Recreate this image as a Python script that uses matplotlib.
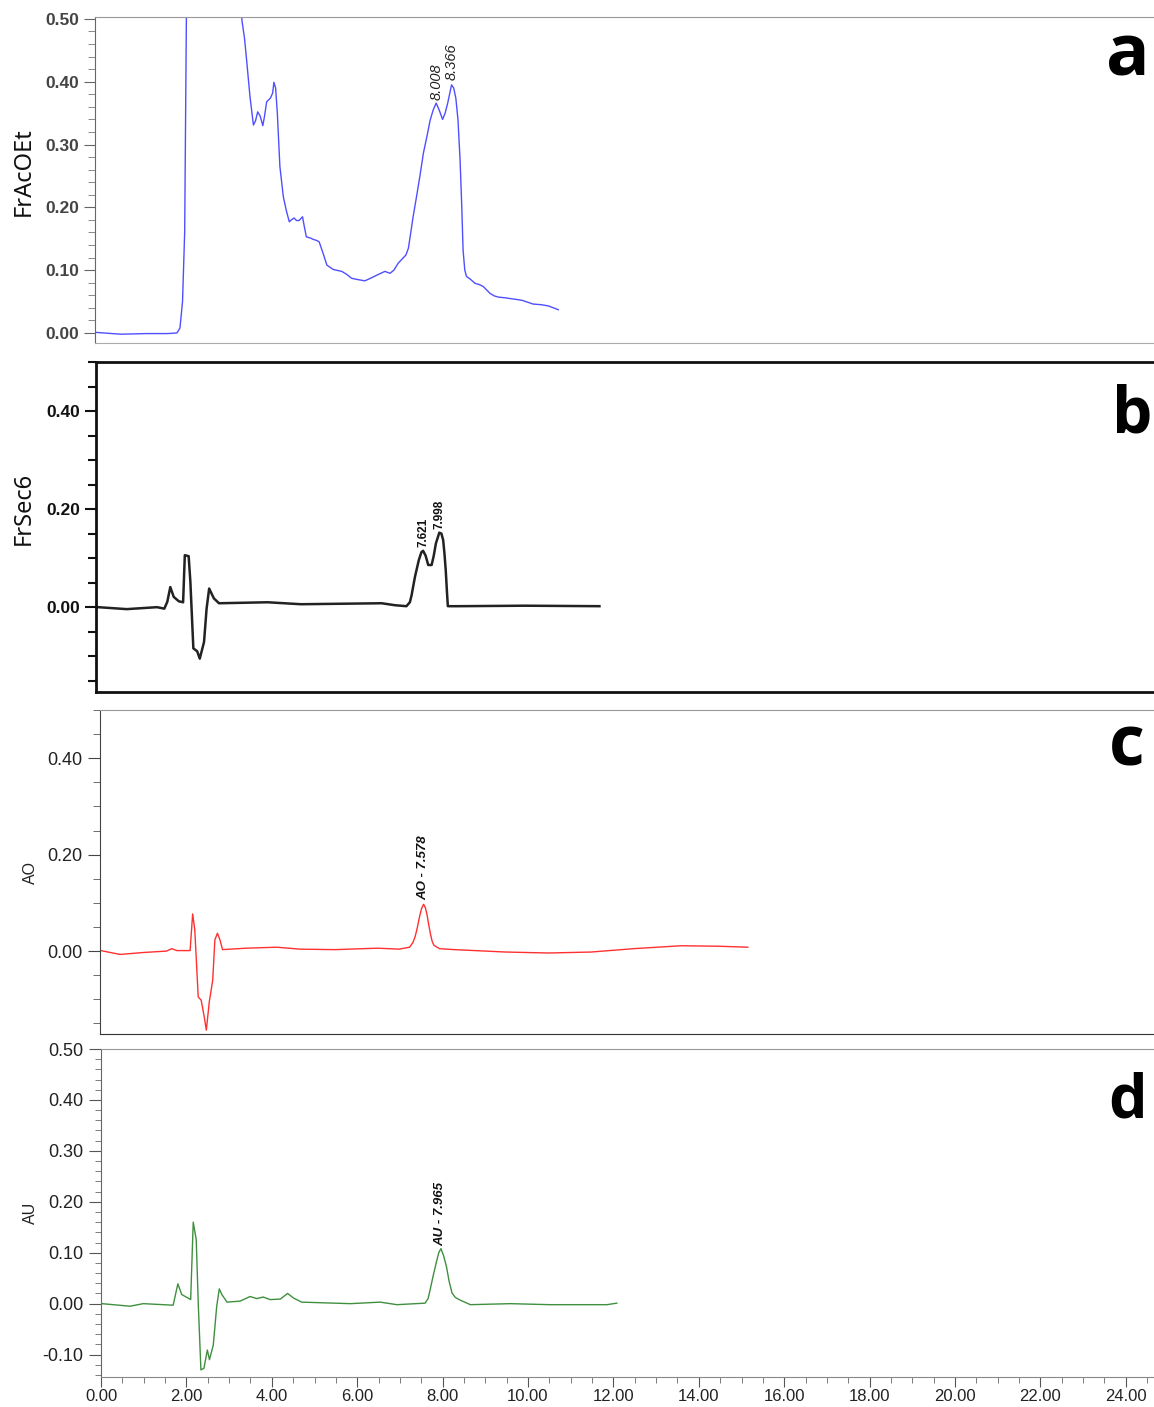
import matplotlib
matplotlib.use("Agg")
import matplotlib.pyplot as plt
from matplotlib.ticker import MultipleLocator, FormatStrFormatter

# ---- data (time in min, absorbance) ----
t_a = [0.00, 0.60, 1.20, 1.70, 1.92, 1.99, 2.05, 2.10, 2.14, 2.20,
       3.40, 3.44, 3.50, 3.55, 3.63, 3.71, 3.76, 3.81, 3.87, 3.93, 3.97, 4.02,
       4.11, 4.16, 4.19, 4.23, 4.27, 4.33, 4.41, 4.48, 4.55, 4.60, 4.66, 4.72,
       4.78, 4.86, 4.90, 4.95, 5.05, 5.11, 5.20, 5.25, 5.35, 5.43, 5.58,
       5.78, 5.90, 6.01, 6.15, 6.32, 6.45, 6.60, 6.79, 6.91, 7.00, 7.10, 7.28,
       7.34, 7.38, 7.45, 7.53, 7.61, 7.69, 7.78, 7.85, 7.92, 7.99, 8.06, 8.14,
       8.20, 8.26, 8.31, 8.35, 8.40, 8.45, 8.50, 8.55, 8.59, 8.62, 8.66, 8.70,
       8.80, 8.90, 9.00, 9.09, 9.18, 9.25, 9.35, 9.45, 9.60, 9.80, 10.00,
       10.26, 10.45, 10.62, 10.85]
v_a = [0.001, -0.002, -0.001, -0.001, 0.0, 0.008, 0.05, 0.16, 0.50, 0.60,
       0.60, 0.498, 0.470, 0.435, 0.376, 0.331, 0.338, 0.352, 0.345, 0.330, 0.345, 0.368,
       0.374, 0.382, 0.399, 0.390, 0.350, 0.265, 0.217, 0.195, 0.177, 0.180, 0.183, 0.179,
       0.179, 0.185, 0.170, 0.153, 0.151, 0.149, 0.147, 0.145, 0.125, 0.108, 0.101,
       0.098, 0.093, 0.087, 0.085, 0.083, 0.087, 0.092, 0.098, 0.095, 0.100, 0.111, 0.124,
       0.135, 0.153, 0.185, 0.217, 0.250, 0.286, 0.315, 0.339, 0.355, 0.366, 0.355, 0.340,
       0.350, 0.366, 0.382, 0.395, 0.390, 0.374, 0.340, 0.275, 0.200, 0.132, 0.100, 0.090,
       0.085, 0.079, 0.077, 0.074, 0.068, 0.063, 0.059, 0.057, 0.056, 0.054, 0.052,
       0.046, 0.045, 0.043, 0.037]

t_b = [0.00, 0.67, 1.38, 1.55, 1.62, 1.69, 1.77, 1.89, 1.99, 2.03, 2.12,
       2.16, 2.23, 2.32, 2.38, 2.48, 2.54, 2.60, 2.71, 2.83, 3.97, 4.75,
       6.64, 6.95, 7.22, 7.30, 7.34, 7.42, 7.51, 7.57, 7.61, 7.67, 7.73, 7.81,
       7.86, 7.91, 7.99, 8.04, 8.08, 8.11, 8.14, 8.17, 8.19, 8.44, 10.0, 11.74]
v_b = [0.0, -0.004, 0.0, -0.003, 0.011, 0.041, 0.021, 0.012, 0.010, 0.106, 0.104,
       0.052, -0.084, -0.090, -0.105, -0.071, -0.003, 0.038, 0.018, 0.008, 0.010, 0.006,
       0.008, 0.004, 0.002, 0.010, 0.024, 0.062, 0.096, 0.112, 0.115, 0.105, 0.086, 0.086,
       0.105, 0.130, 0.152, 0.150, 0.137, 0.110, 0.076, 0.030, 0.002, 0.002, 0.003, 0.002]

t_c = [0.02, 0.47, 1.01, 1.56, 1.68, 1.80, 2.11, 2.17, 2.22, 2.30, 2.37,
       2.44, 2.49, 2.56, 2.64, 2.69, 2.75, 2.81, 2.87, 3.43, 4.14, 4.68,
       5.50, 6.50, 7.00, 7.25, 7.33, 7.38, 7.43, 7.48, 7.53, 7.578, 7.62, 7.66,
       7.70, 7.74, 7.78, 7.82, 7.95, 8.30, 9.50, 10.50, 11.50, 12.50, 13.60,
       14.50, 15.17]
v_c = [0.001, -0.007, -0.003, 0.0, 0.005, 0.001, 0.001, 0.077, 0.044, -0.095, -0.102,
       -0.136, -0.164, -0.105, -0.060, 0.023, 0.037, 0.023, 0.003, 0.006, 0.008, 0.004,
       0.003, 0.006, 0.004, 0.008, 0.018, 0.030, 0.048, 0.070, 0.088, 0.097, 0.090, 0.075,
       0.054, 0.035, 0.020, 0.012, 0.005, 0.003, -0.002, -0.004, -0.002, 0.005, 0.011,
       0.010, 0.008]

t_d = [0.02, 0.68, 0.99, 1.69, 1.80, 1.89, 2.10, 2.16, 2.23, 2.28, 2.34,
       2.41, 2.49, 2.54, 2.63, 2.71, 2.77, 2.83, 2.95, 3.26, 3.49, 3.65,
       3.80, 3.96, 4.20, 4.37, 4.51, 4.70, 5.84, 6.54, 6.93, 7.59, 7.66, 7.71,
       7.78, 7.85, 7.91, 7.96, 8.02, 8.09, 8.15, 8.22, 8.30, 8.41, 8.65, 9.59,
       10.52, 11.85, 12.08]
v_d = [0.0, -0.005, 0.0, -0.003, 0.039, 0.018, 0.008, 0.160, 0.126, -0.005, -0.130,
       -0.127, -0.091, -0.110, -0.081, -0.005, 0.029, 0.018, 0.003, 0.005, 0.014, 0.010,
       0.013, 0.008, 0.009, 0.020, 0.011, 0.003, 0.0, 0.003, -0.002, 0.001, 0.010, 0.028,
       0.055, 0.080, 0.100, 0.108, 0.095, 0.073, 0.045, 0.021, 0.012, 0.007, -0.002, 0.0,
       -0.002, -0.002, 0.001]

peaks_a = [(7.99, 0.371, "8.008"), (8.36, 0.403, "8.366")]
peaks_b = [(7.62, 0.122, "7.621"), (8.00, 0.159, "7.998")]
peaks_c = [(7.57, 0.106, "AO - 7.578")]
peaks_d = [(7.94, 0.114, "AU - 7.965")]

W, H = 1154, 1407
PPU = 42.7  # pixels per minute, common to all four traces

fig = plt.figure(figsize=(W / 100, H / 100), dpi=100)
TICKFONT = "Liberation Sans"


def make_ax(left, top, bottom, x0):
    ax = fig.add_axes([left / W, 1 - bottom / H, (W - left) / W, (bottom - top) / H])
    ax.set_xlim(x0, x0 + (W - left) / PPU)
    ax.spines["right"].set_visible(False)
    return ax


# ---- panel a ----
ax = make_ax(95, 17, 343, 0.0)
ax.plot(t_a, v_a, color="#4f4fff", lw=1.0)
ax.set_ylim(-0.016, 0.503)
ax.yaxis.set_major_locator(MultipleLocator(0.1))
ax.yaxis.set_minor_locator(MultipleLocator(0.02))
ax.yaxis.set_major_formatter(FormatStrFormatter("%.2f"))
ax.set_xticks([])
ax.tick_params(axis="y", which="major", length=8, color="#666", labelsize=12.5,
               labelcolor="#444", labelfontfamily=TICKFONT)
ax.tick_params(axis="y", which="minor", length=5, color="#777")
for lab in ax.get_yticklabels():
    lab.set_fontweight("bold")
ax.spines["left"].set_color("#666")
ax.spines["top"].set_color("#999")
ax.spines["bottom"].set_color("#aaa")
for x, y, s in peaks_a:
    ax.text(x, y, s, rotation=90, ha="center", va="bottom", fontsize=10.5,
            style="italic", color="#222", family=TICKFONT)

# ---- panel b ----
ax = make_ax(96, 362, 692, -0.05)
ax.plot(t_b, v_b, color="#222", lw=1.8)
ax.set_ylim(-0.173, 0.50)
ax.yaxis.set_major_locator(MultipleLocator(0.2))
ax.yaxis.set_minor_locator(MultipleLocator(0.05))
ax.yaxis.set_major_formatter(FormatStrFormatter("%.2f"))
ax.set_xticks([])
ax.tick_params(axis="y", which="major", length=8, width=1.5, color="#111", labelsize=12.5,
               labelcolor="#111", labelfontfamily=TICKFONT)
ax.tick_params(axis="y", which="minor", length=6, width=1.5, color="#111")
for lab in ax.get_yticklabels():
    lab.set_fontweight("bold")
for side in ("left", "top", "bottom"):
    ax.spines[side].set_color("#111")
    ax.spines[side].set_linewidth(2)
for x, y, s in peaks_b:
    ax.text(x, y, s, rotation=90, ha="center", va="bottom", fontsize=8.5,
            fontweight="bold", color="#111", family=TICKFONT)

# ---- panel c ----
ax = make_ax(100, 710, 1034, 0.0)
ax.plot(t_c, v_c, color="#ff3030", lw=1.0)
ax.set_ylim(-0.172, 0.50)
ax.yaxis.set_major_locator(MultipleLocator(0.2))
ax.yaxis.set_minor_locator(MultipleLocator(0.05))
ax.yaxis.set_major_formatter(FormatStrFormatter("%.2f"))
ax.set_xticks([])
ax.tick_params(axis="y", which="major", length=9, color="#444", labelsize=13,
               labelcolor="#222", labelfontfamily=TICKFONT)
ax.tick_params(axis="y", which="minor", length=5, color="#555")
ax.spines["left"].set_color("#444")
ax.spines["top"].set_color("#999")
ax.spines["bottom"].set_color("#333")
for x, y, s in peaks_c:
    ax.text(x, y, s, rotation=90, ha="center", va="bottom", fontsize=9.5,
            fontweight="bold", style="italic", color="#111", family=TICKFONT)

# ---- panel d ----
ax = make_ax(101, 1049, 1377, 0.0)
ax.plot(t_d, v_d, color="#3f8f3f", lw=1.0)
ax.set_ylim(-0.144, 0.50)
ax.yaxis.set_major_locator(MultipleLocator(0.1))
ax.yaxis.set_minor_locator(MultipleLocator(0.02))
ax.yaxis.set_major_formatter(FormatStrFormatter("%.2f"))
ax.xaxis.set_major_locator(MultipleLocator(2))
ax.xaxis.set_minor_locator(MultipleLocator(0.5))
ax.xaxis.set_major_formatter(FormatStrFormatter("%.2f"))
ax.tick_params(axis="y", which="major", length=9, color="#555", labelsize=13,
               labelcolor="#222", labelfontfamily=TICKFONT)
ax.tick_params(axis="x", which="major", length=7, pad=1.5, color="#555", labelsize=12,
               labelcolor="#222", labelfontfamily=TICKFONT)
ax.tick_params(which="minor", length=4, color="#666")
ax.spines["left"].set_color("#666")
ax.spines["top"].set_color("#999")
ax.spines["bottom"].set_color("#888")
for x, y, s in peaks_d:
    ax.text(x, y, s, rotation=90, ha="center", va="bottom", fontsize=9.5,
            fontweight="bold", style="italic", color="#111", family=TICKFONT)

# ---- axis titles and panel letters ----
fig.text(24 / W, 1 - 172 / H, "FrAcOEt", rotation=90, ha="center", va="center",
         fontsize=17, family="Noto Sans", color="#111")
fig.text(24 / W, 1 - 508 / H, "FrSec6", rotation=90, ha="center", va="center",
         fontsize=17, family="Noto Sans", color="#111")
fig.text(30 / W, 1 - 873 / H, "AO", rotation=90, ha="center", va="center",
         fontsize=11.5, family=TICKFONT, color="#222")
fig.text(30 / W, 1 - 1213 / H, "AU", rotation=90, ha="center", va="center",
         fontsize=11.5, family=TICKFONT, color="#222")

letters = [("a", 1128, 75, 52), ("b", 1132, 433, 46), ("c", 1127, 765, 50), ("d", 1128, 1118, 44)]
for s, x, y, fs in letters:
    fig.text(x / W, 1 - y / H, s, ha="center", va="baseline", fontsize=fs,
             fontweight="bold", family="Open Sans", color="black")

fig.savefig("out.png", dpi=100)
